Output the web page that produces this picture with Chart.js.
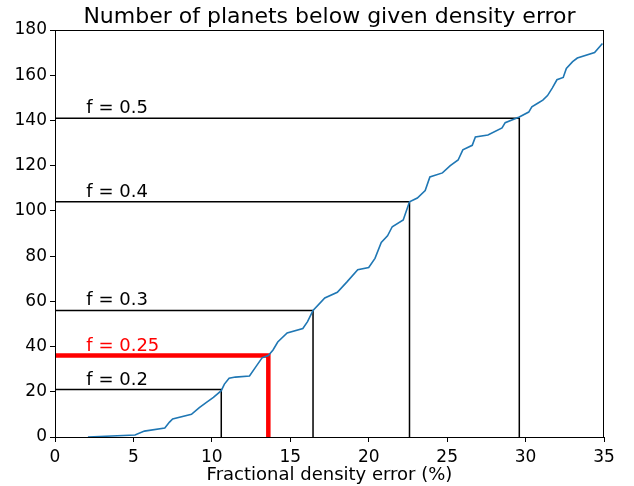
<!DOCTYPE html>
<html>
<head>
<meta charset="utf-8">
<script src="https://cdn.jsdelivr.net/npm/chart.js@4/dist/chart.umd.min.js"></script>
<style>
  html, body { margin: 0; padding: 0; background: #fff; }
  #wrap { width: 634px; height: 486px; }
</style>
</head>
<body>
<div id="wrap"><canvas id="myChart"></canvas></div>
<script>
  // cumulative curve
  const errX = [2.1, 5.1, 5.7, 7.0, 7.3, 7.5, 8.7, 9.2, 9.7, 10.1, 10.6, 10.8, 11.1, 11.5, 12.4, 12.8, 13.2, 13.6,
    13.9, 14.2, 14.8, 15.8, 16.1, 16.45, 17.2, 18.0, 18.6, 19.3, 20.0, 20.4, 20.8, 21.2, 21.5, 22.2, 22.6,
    23.1, 23.6, 23.9, 24.7, 25.2, 25.7, 26.0, 26.6, 26.8, 27.6, 28.5, 28.7, 29.6, 30.2, 30.4, 30.8, 31.1,
    31.4, 31.7, 32.0, 32.4, 32.6, 33.0, 33.3, 34.4, 34.9];
  const countY = [0, 0.9, 2.6, 4, 6.6, 8, 10, 13, 15.5, 17.5, 20.5, 23.4, 26, 26.5, 27, 31, 35, 36,
    38.5, 42, 46, 48, 51, 56, 61.5, 64, 68.5, 74, 75, 79, 86, 89, 93, 96, 104,
    105.7, 109, 115, 116.8, 120, 122.5, 127, 129, 132.7, 133.6, 136.7, 139, 141.5, 143.7, 146, 147.7, 149,
    151, 154.3, 158, 159, 163, 166, 167.6, 170, 174];

  // fraction markers
  const fLabels = ['f = 0.2', 'f = 0.25', 'f = 0.3', 'f = 0.4', 'f = 0.5'];
  const fCount = [21, 36, 56, 104, 141];
  const fError = [10.6, 13.6, 16.45, 22.6, 29.6];
  const fColors = ['#000000', '#ff0000', '#000000', '#000000', '#000000'];
  const fWidths = [1.5, 4.5, 1.5, 1.5, 1.5];

  const xTicks = [0, 5, 10, 15, 20, 25, 30, 35];
  const yTicks = [0, 20, 40, 60, 80, 100, 120, 140, 160, 180];

  const FONT = 'DejaVu Sans';
  const TITLE = 'Number of planets below given density error';

  const datasets = [{
    label: 'curve',
    data: errX.map((x, i) => ({ x: x, y: countY[i] })),
    borderColor: '#1f77b4',
    borderWidth: 1.6,
    pointRadius: 0,
    showLine: true,
    tension: 0
  }];
  fCount.forEach((c, i) => {
    datasets.push({
      label: fLabels[i],
      data: [{ x: 0, y: c }, { x: fError[i], y: c }, { x: fError[i], y: 0 }],
      borderColor: fColors[i],
      borderWidth: fWidths[i],
      pointRadius: 0,
      showLine: true,
      tension: 0
    });
  });

  // title over the plot, texts above the horizontal lines, frame round the plot
  const extras = {
    id: 'extras',
    afterDatasetsDraw(chart) {
      const ctx = chart.ctx;
      const xs = chart.scales.x, ys = chart.scales.y;
      const a = chart.chartArea;
      ctx.save();
      ctx.font = '18px ' + FONT;
      ctx.textAlign = 'left';
      ctx.textBaseline = 'alphabetic';
      fLabels.forEach((t, i) => {
        ctx.fillStyle = fColors[i];
        ctx.fillText(t, xs.getPixelForValue(2), ys.getPixelForValue(fCount[i]) - 5);
      });
      ctx.fillStyle = '#000';
      ctx.font = '22px ' + FONT;
      ctx.textAlign = 'center';
      ctx.fillText(TITLE, (a.left + a.right) / 2, 23);
      ctx.strokeStyle = '#000';
      ctx.lineWidth = 1;
      ctx.strokeRect(a.left + 0.5, a.top + 0.5, a.right - a.left - 1, a.bottom - a.top);
      ctx.restore();
    }
  };

  const config = {
    type: 'scatter',
    data: { datasets },
    options: {
      animation: false,
      responsive: true,
      maintainAspectRatio: false,
      layout: { padding: { left: 0, right: 30, top: 30, bottom: 0 } },
      plugins: {
        legend: { display: false },
        tooltip: { enabled: false },
        title: { display: false }
      },
      scales: {
        x: {
          type: 'linear',
          min: 0, max: 35,
          afterBuildTicks: s => { s.ticks = xTicks.map(v => ({ value: v })); },
          afterFit: s => { s.height = 49; },
          grid: { drawOnChartArea: false, drawTicks: true, tickLength: 5, color: '#000' },
          border: { display: false },
          ticks: { color: '#000', font: { family: FONT, size: 17 }, padding: 5, maxRotation: 0 },
          title: {
            display: true,
            text: 'Fractional density error (%)',
            color: '#000',
            font: { family: FONT, size: 18 },
            padding: { top: 0, bottom: 0 }
          }
        },
        y: {
          type: 'linear',
          min: 0, max: 180,
          afterBuildTicks: s => { s.ticks = yTicks.map(v => ({ value: v })); },
          afterFit: s => { s.width = 55; },
          grid: { drawOnChartArea: false, drawTicks: true, tickLength: 5, color: '#000' },
          border: { display: false },
          ticks: { color: '#000', font: { family: FONT, size: 17 }, padding: 3 }
        }
      }
    },
    plugins: [extras]
  };

  const myChart = new Chart(document.getElementById('myChart'), config);
</script>
</body>
</html>
